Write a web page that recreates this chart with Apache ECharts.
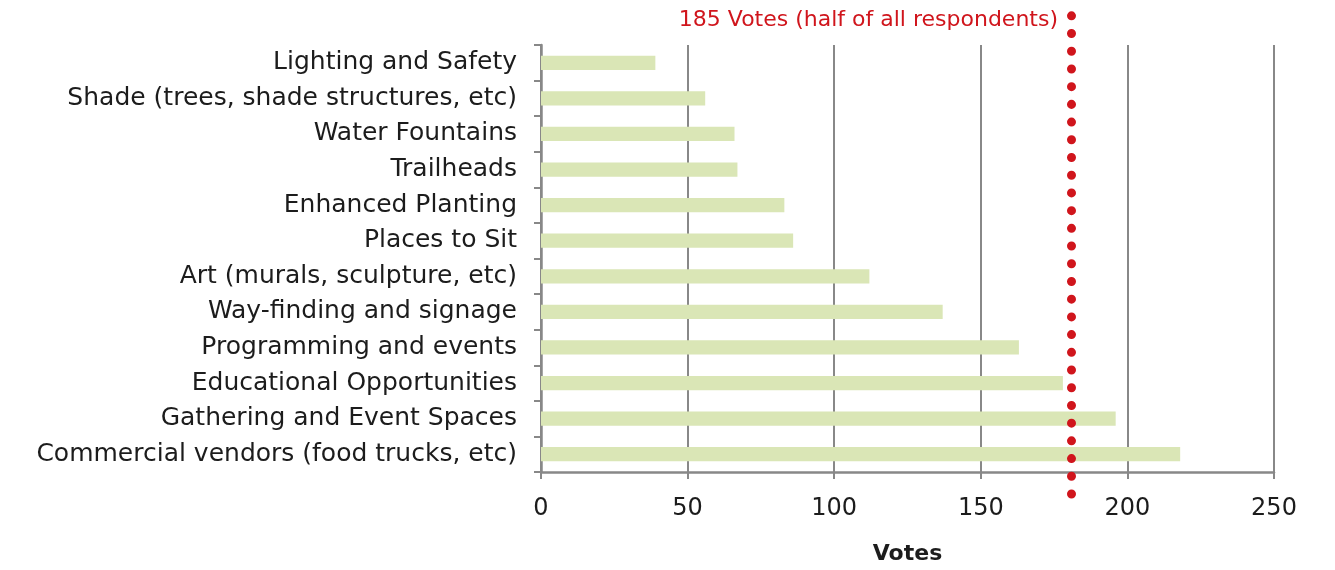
<!DOCTYPE html>
<html>
<head>
<meta charset="utf-8">
<script src="https://cdn.jsdelivr.net/npm/echarts@6/dist/echarts.min.js"></script>
<style>
  html, body { margin: 0; padding: 0; background: #fff; }
  #chart { width: 1335px; height: 570px; }
</style>
</head>
<body>
<div id="chart"></div>
<script>
// categories top to bottom
const categories = [
  'Lighting and Safety',
  'Shade (trees, shade structures, etc)',
  'Water Fountains',
  'Trailheads',
  'Enhanced Planting',
  'Places to Sit',
  'Art (murals, sculpture, etc)',
  'Way-finding and signage',
  'Programming and events',
  'Educational Opportunities',
  'Gathering and Event Spaces',
  'Commercial vendors (food trucks, etc)'
]
const votes = [39, 56, 66, 67, 83, 86, 112, 137, 163, 178, 196, 218]
const halfLine = 181
const halfLabel = '185 Votes (half of all respondents)'
const xTicks = [0, 50, 100, 150, 200, 250]

const font = '"DejaVu Sans", Roboto, sans-serif'
const axisGray = '#888888'
const red = '#d0151c'
const ink = '#1c1c1c'

const chart = echarts.init(document.getElementById('chart'))
chart.setOption({
  animation: false,
  textStyle: { fontFamily: font },
  grid: [
    { left: 541, right: 61, top: 45, bottom: 96 },
    { left: 541, right: 61, top: 15, bottom: 76 }
  ],
  xAxis: [
    {
      type: 'value',
      gridIndex: 0,
      min: xTicks[0],
      max: xTicks[xTicks.length - 1],
      interval: 50,
      name: 'Votes',
      nameLocation: 'middle',
      nameGap: 71,
      nameTextStyle: { fontSize: 22, fontWeight: 'bold', color: ink, fontFamily: font },
      axisLine: { show: true, lineStyle: { color: axisGray, width: 2.5 } },
      axisTick: { show: true, length: 7, lineStyle: { color: axisGray, width: 2 } },
      axisLabel: { fontSize: 24, color: ink, margin: 25, fontFamily: font },
      splitLine: { show: true, lineStyle: { color: axisGray, width: 2 } }
    },
    {
      type: 'value',
      gridIndex: 1,
      min: xTicks[0],
      max: xTicks[xTicks.length - 1],
      show: false
    }
  ],
  yAxis: [
    {
      type: 'category',
      gridIndex: 0,
      data: categories,
      inverse: true,
      axisLine: { show: true, lineStyle: { color: axisGray, width: 2.5 } },
      axisTick: { show: true, length: 7, lineStyle: { color: axisGray, width: 2 } },
      axisLabel: { fontSize: 25, color: ink, margin: 24, fontFamily: font },
      splitLine: { show: false }
    },
    {
      type: 'value',
      gridIndex: 1,
      min: 0,
      max: 1,
      show: false
    }
  ],
  series: [
    {
      type: 'bar',
      xAxisIndex: 0,
      yAxisIndex: 0,
      data: votes,
      barWidth: '40%',
      itemStyle: { color: '#dae6b6' }
    },
    {
      type: 'scatter',
      xAxisIndex: 1,
      yAxisIndex: 1,
      data: [],
      markLine: {
        silent: true,
        symbol: 'none',
        label: { show: false },
        lineStyle: { color: red, width: 9, type: [0.01, 17.7], cap: 'round' },
        data: [{ xAxis: halfLine }]
      }
    }
  ],
  graphic: [
    {
      type: 'text',
      right: 1335 - 1058,
      top: 9,
      style: { text: halfLabel, fill: red, font: '22px ' + font }
    }
  ]
})
</script>
</body>
</html>
